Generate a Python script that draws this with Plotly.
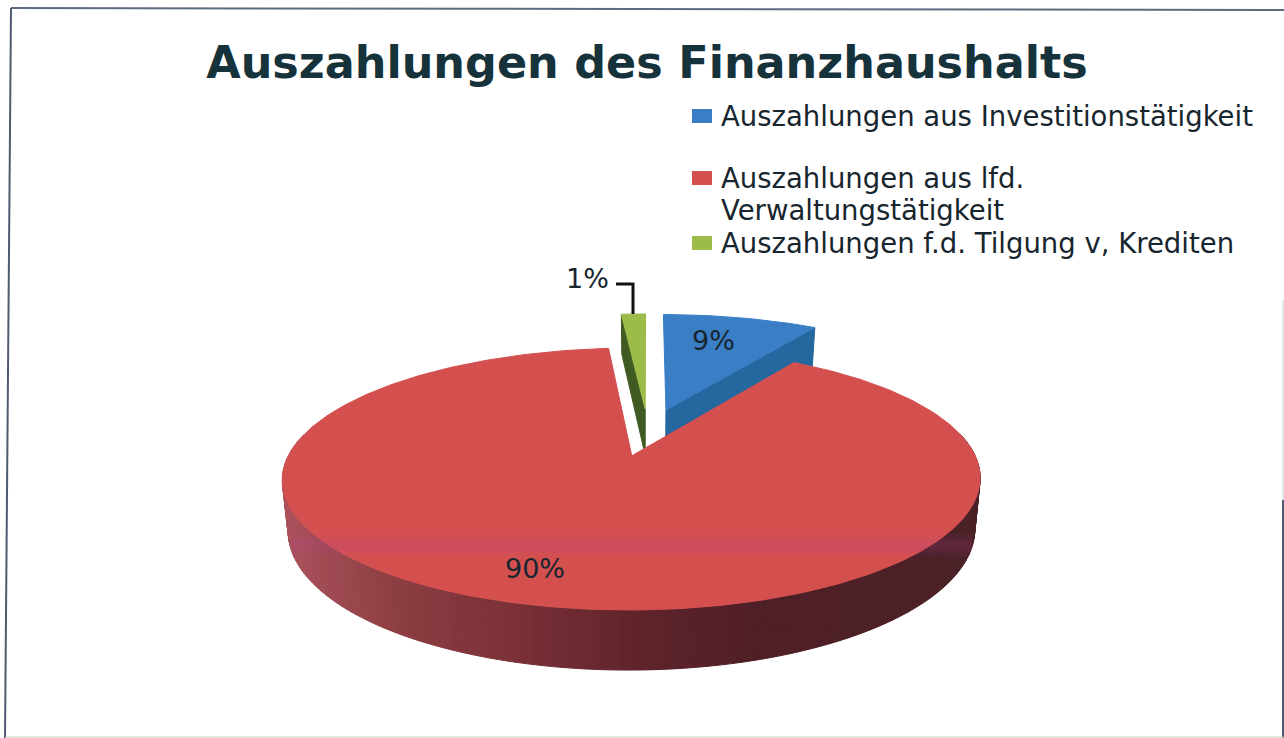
import math
import plotly.graph_objects as go

# ---- data ----
categories = ["Auszahlungen aus Investitionstätigkeit",
              "Auszahlungen aus lfd. Verwaltungstätigkeit",
              "Auszahlungen f.d. Tilgung v, Krediten"]
legend_lines = [["Auszahlungen aus Investitionstätigkeit"],
                ["Auszahlungen aus lfd.", "Verwaltungstätigkeit"],
                ["Auszahlungen f.d. Tilgung v, Krediten"]]
values = [9.0, 89.6, 1.4]
value_labels = ["9%", "90%", "1%"]
top_colors = ["#3a7ec6", "#d4504f", "#9cbb48"]
wall_colors = ["#24689f", "#7a2f33", "#3f5a22"]
title_text = "Auszahlungen des Finanzhaushalts"

# ---- projection of the tilted pie on the canvas ----
CX, CY = 648.0, 432.0
A, B, K = 332.0, 118.6, 0.171
DEPTH = 47.8
EXPLODE = 0.20


def project(u, v, z=0.0):
    w = 1 + K * v
    s = 1 - 0.016 * z
    return CX + s * A * u / w, CY - B * v / w + z * DEPTH / w


def slice_geometry():
    total = sum(values)
    start = 0.0
    out = []
    for val in values:
        end = start + val / total * 2 * math.pi
        mid = (start + end) / 2
        out.append((start, end, EXPLODE * math.sin(mid), EXPLODE * math.cos(mid)))
        start = end
    return out


def arc(geo, a0, a1, z=0.0, step=math.radians(1.0)):
    _, _, ou, ov = geo
    n = max(2, int(abs(a1 - a0) / step) + 1)
    return [project(ou + math.sin(a0 + (a1 - a0) * i / n),
                    ov + math.cos(a0 + (a1 - a0) * i / n), z) for i in range(n + 1)]


def poly(points, color, name=None):
    xs = [p[0] for p in points] + [points[0][0]]
    ys = [p[1] for p in points] + [points[0][1]]
    return go.Scatter(x=xs, y=ys, mode="lines", fill="toself", fillcolor=color,
                      line=dict(color=color, width=1), showlegend=False,
                      hoverinfo="skip" if name is None else "name",
                      name=name or "")


def mix(stops, x):
    for (x0, c0), (x1, c1) in zip(stops, stops[1:]):
        if x <= x1:
            t = max(0.0, (x - x0) / (x1 - x0))
            return "rgb(%d,%d,%d)" % tuple(c0[i] + (c1[i] - c0[i]) * t for i in range(3))
    return "rgb(%d,%d,%d)" % stops[-1][1]


wall_stops = [(285, (172, 82, 92)), (400, (140, 62, 66)), (520, (122, 48, 54)),
              (640, (96, 36, 44)), (760, (80, 31, 38)), (990, (74, 34, 38))]

geos = slice_geometry()
fig = go.Figure()

# blue slice: cut wall, then top
g = geos[0]
ap = (g[2], g[3])
corner = (g[2] + math.sin(g[1]), g[3] + math.cos(g[1]))
fig.add_trace(poly([project(*ap), project(*corner), project(*corner, 1), project(*ap, 1)], wall_colors[0]))
fig.add_trace(poly([project(*ap)] + arc(g, g[0], g[1]), top_colors[0], categories[0]))

# green slice: cut wall, then top
g = geos[2]
ap = (g[2], g[3])
corner = (g[2] + math.sin(g[0]), g[3] + math.cos(g[0]))
fig.add_trace(poly([project(*ap), project(*corner), project(*corner, 1), project(*ap, 1)], wall_colors[2]))
fig.add_trace(poly([project(*ap)] + arc(g, g[0], g[1]), top_colors[2], categories[2]))

# red slice: outer wall in strips, then top
g = geos[1]
n_strips = 160
for i in range(n_strips):
    a0 = math.radians(80) + math.radians(200) * i / n_strips
    a1 = math.radians(80) + math.radians(200) * (i + 1) / n_strips
    p = arc(g, a0, a1, 0, step=1) + arc(g, a1, a0, 1, step=1)
    fig.add_trace(poly(p, mix(wall_stops, sum(q[0] for q in p) / len(p))))
fig.add_trace(poly([project(g[2], g[3])] + arc(g, g[0], g[1]), top_colors[1], categories[1]))

# leader line of the smallest slice
gx, gy = project(geos[2][2] + math.sin((geos[2][0] + geos[2][1]) / 2),
                 geos[2][3] + math.cos((geos[2][0] + geos[2][1]) / 2))
fig.add_trace(go.Scatter(x=[616, 633, 633], y=[284, 284, gy], mode="lines",
                         line=dict(color="#111111", width=3), showlegend=False, hoverinfo="skip"))

ink = "#17262e"
font = "DejaVu Sans"
ann = []
for txt, x, y in zip(value_labels, [713, 535, 587], [340, 568, 278]):
    ann.append(dict(x=x, y=y, text=txt, showarrow=False, xref="x", yref="y",
                    font=dict(family=font, size=27, color=ink)))
shapes = []
legend_y = [116, 178, 243]
text_y = [[116], [178, 210], [243]]
for lines, col, yc, ys in zip(legend_lines, top_colors, legend_y, text_y):
    for line, yt in zip(lines, ys):
        ann.append(dict(x=719, y=yt, text=line, showarrow=False, xanchor="left", align="left",
                        xref="x", yref="y", font=dict(family=font, size=27.5, color=ink)))
    shapes.append(dict(type="rect", x0=692, x1=712, y0=yc - 7, y1=yc + 7, xref="x", yref="y",
                       fillcolor=col, line=dict(width=0)))
# scanned frame: slightly skewed, fading on the right, faint along the bottom
frame = [(11, 8, 1284, 10, "#5d6b80", 2), (11, 8, 5, 738, "#4f5b70", 2),
         (1283, 300, 1283, 500, "#c9ccd2", 1), (1283, 500, 1283, 738, "#4f5b70", 2),
         (5, 737, 1284, 737, "#c8c8c0", 1)]
for x0, y0, x1, y1, col, wd in frame:
    shapes.append(dict(type="line", x0=x0, y0=y0, x1=x1, y1=y1, xref="x", yref="y",
                       line=dict(color=col, width=wd), layer="below"))
# soft show-through band of the scan over the pie
for y0, y1 in [(534, 556), (538, 552), (541, 549)]:
    shapes.append(dict(type="rect", x0=292, x1=972, y0=y0, y1=y1, xref="x", yref="y",
                       fillcolor="rgba(190,70,150,0.07)", line=dict(width=0)))

fig.update_layout(
    width=1284, height=738, margin=dict(l=0, r=0, t=0, b=0),
    paper_bgcolor="white", plot_bgcolor="white", showlegend=False,
    title=dict(text=f"<b>{title_text}</b>", x=647 / 1284, xanchor="center", xref="paper",
               y=1 - 62 / 738, yanchor="middle", yref="paper",
               font=dict(family=font, size=44.5, color="#16323a")),
    xaxis=dict(range=[0, 1284], visible=False, fixedrange=True),
    yaxis=dict(range=[738, 0], visible=False, fixedrange=True),
    annotations=ann, shapes=shapes,
)
fig.write_html("out.html", config=dict(displayModeBar=False),
               post_script="document.body.style.margin='0';")
